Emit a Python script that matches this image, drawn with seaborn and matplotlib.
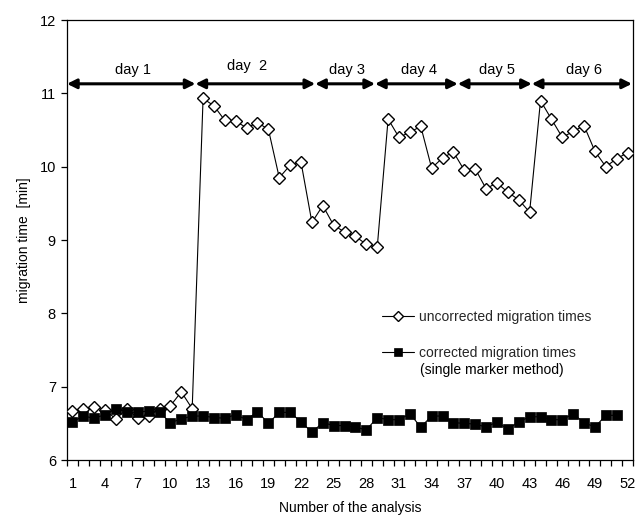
import matplotlib
matplotlib.use("Agg")
import matplotlib.pyplot as plt
import seaborn as sns
import numpy as np
import pandas as pd

# ---- data ----
uncorrected = [6.67, 6.70, 6.72, 6.68, 6.56, 6.70, 6.57, 6.60, 6.70, 6.74, 6.93, 6.70,
               10.93, 10.83, 10.63, 10.62, 10.53, 10.60, 10.51, 9.85, 10.02, 10.06,
               9.24, 9.47, 9.20, 9.11, 9.05, 8.94, 8.90,
               10.65, 10.40, 10.47, 10.55, 9.98, 10.12, 10.20, 9.95, 9.97, 9.70, 9.78,
               9.65, 9.55, 9.38,
               10.90, 10.65, 10.40, 10.48, 10.56, 10.21, 10.00, 10.11, 10.19]
corrected = [6.52, 6.60, 6.57, 6.62, 6.70, 6.65, 6.65, 6.67, 6.65, 6.51, 6.56, 6.60,
             6.60, 6.58, 6.57, 6.62, 6.55, 6.66, 6.50, 6.65, 6.65, 6.52, 6.38, 6.51,
             6.47, 6.47, 6.45, 6.41, 6.58, 6.55, 6.55, 6.63, 6.45, 6.60, 6.60, 6.51,
             6.50, 6.49, 6.45, 6.52, 6.42, 6.52, 6.59, 6.59, 6.55, 6.55, 6.63, 6.51,
             6.45, 6.61, 6.61]
x_unc = list(range(1, len(uncorrected) + 1))
x_cor = list(range(1, len(corrected) + 1))

day_labels = ["day 1", "day  2", "day 3", "day 4", "day 5", "day 6"]
day_bounds = [0.5, 12.3, 23.3, 28.8, 36.4, 43.2, 52.4]
day_label_x = [6.6, 17.0, 26.2, 32.8, 40.0, 48.0]
x_tick_labels = [str(v) for v in range(1, 53, 3)]

label_unc = "uncorrected migration times"
label_cor = "corrected migration times"
label_cor2 = "(single marker method)"

# ---- style ----
sns.set_theme(style="ticks")
plt.rcParams["font.family"] = ["Liberation Sans", "DejaVu Sans"]
plt.rcParams["axes.edgecolor"] = "black"
plt.rcParams["axes.linewidth"] = 0.9

fig = plt.figure(figsize=(6.4, 5.21), dpi=100)
ax = fig.add_axes([0.1047, 0.117, 0.8844, 0.8446])

df_u = pd.DataFrame({"x": x_unc, "y": uncorrected})
df_c = pd.DataFrame({"x": x_cor, "y": corrected})

sns.lineplot(data=df_u, x="x", y="y", ax=ax, color="black", linewidth=0.8,
             marker="D", markersize=5.8, markerfacecolor="white",
             markeredgecolor="black", markeredgewidth=1.0, errorbar=None,
             label=label_unc, zorder=3)
sns.lineplot(data=df_c, x="x", y="y", ax=ax, color="black", linewidth=0.8,
             marker="s", markersize=6.8, markerfacecolor="black",
             markeredgecolor="black", markeredgewidth=0.5, errorbar=None,
             label=label_cor, zorder=4)

ax.set_xlim(0.5, 52.5)
ax.set_ylim(6, 12)

ax.set_xticks(list(range(1, 53, 3)))
ax.set_xticklabels(x_tick_labels)
ax.set_xticks(np.arange(0.5, 53, 1.0), minor=True)
ax.tick_params(axis="x", which="major", length=0, pad=12.5, labelsize=10.5, colors="black")
ax.tick_params(axis="x", which="minor", length=4, width=0.9, direction="out", color="black")
ax.set_yticks(range(6, 13))
ax.tick_params(axis="y", which="major", length=4, width=0.9, direction="out",
               labelsize=10.5, colors="black", pad=4)

for s in ["top", "right", "left", "bottom"]:
    ax.spines[s].set_visible(True)
    ax.spines[s].set_color("black")

ax.set_xlabel("Number of the analysis", fontsize=10, color="black", labelpad=7)
ax.set_ylabel("migration time  [min]", fontsize=10, color="black", labelpad=6)

# day arrows
arrow_y = 11.13
for i, lab in enumerate(day_labels):
    ax.annotate("", xy=(day_bounds[i + 1], arrow_y), xytext=(day_bounds[i], arrow_y),
                arrowprops=dict(arrowstyle="<|-|>", color="black", lw=2.2,
                                mutation_scale=14, shrinkA=0, shrinkB=0),
                zorder=5)
    ty = 11.37 if lab == "day  2" else 11.32
    ax.text(day_label_x[i], ty, lab, ha="center", va="center", fontsize=10.5, color="black")

# legend
leg = ax.legend(loc="upper left", bbox_to_anchor=(0.556, 0.341), frameon=False,
                fontsize=10, handlelength=2.3, handletextpad=0.35, markerscale=0.85,
                labelspacing=1.6, borderpad=0, borderaxespad=0)
ax.text(0.624, 0.2045, label_cor2, transform=ax.transAxes, fontsize=10,
        ha="left", va="center", color="black")

fig.savefig("out.png", dpi=100)
